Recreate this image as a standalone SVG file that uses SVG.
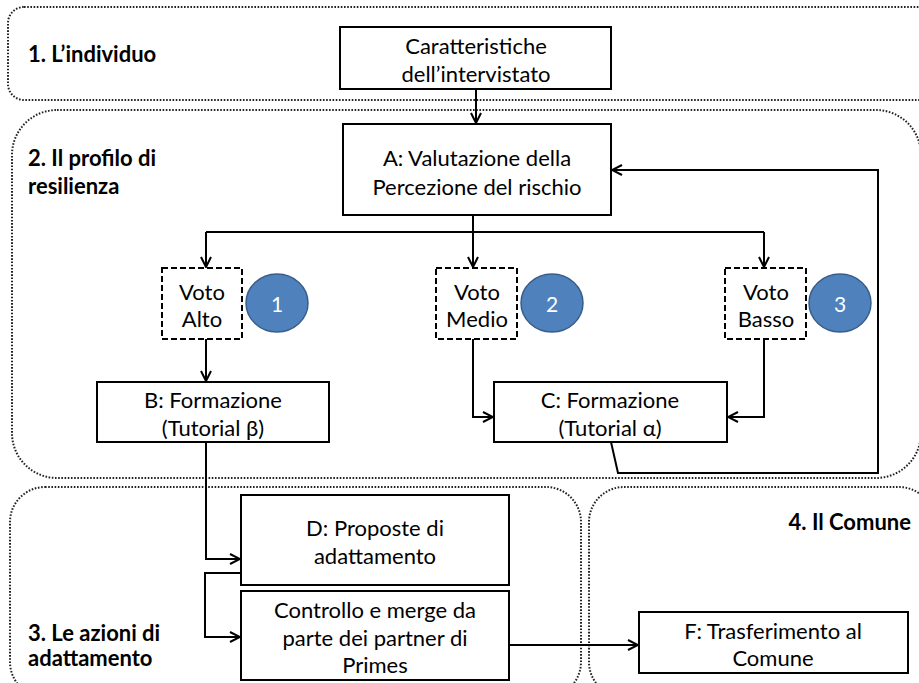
<svg xmlns="http://www.w3.org/2000/svg" width="919" height="683" viewBox="0 0 919 683">
<defs>
<style>
.region{fill:none;stroke:#222;stroke-width:2;stroke-dasharray:1.6 1.6}
.box{fill:#fff;stroke:#000;stroke-width:2}
.dbox{fill:#fff;stroke:#000;stroke-width:2;stroke-dasharray:6 3}
.t{font-family:Lato,"Open Sans",sans-serif;font-size:22px;fill:#000;text-anchor:middle;dominant-baseline:central}
.lb{font-family:Lato,"Open Sans",sans-serif;font-size:22px;font-weight:bold;fill:#000;dominant-baseline:central}
.circ{fill:#4F81BD;stroke:#385D8A;stroke-width:1.5}
.ct{font-family:Lato,"Open Sans",sans-serif;font-size:21px;fill:#fff;text-anchor:middle;dominant-baseline:central}
.c{fill:none;stroke:#000;stroke-width:2}
</style>
<marker id="arr" viewBox="0 0 12 12" refX="11" refY="6" markerWidth="12" markerHeight="12" markerUnits="userSpaceOnUse" orient="auto">
<path d="M1,1 L11,6 L1,11" fill="none" stroke="#000" stroke-width="2"/>
</marker>
</defs>
<g id="regions">
<rect id="r1" class="region" x="8" y="7" width="930" height="93" rx="16"/>
<rect id="r2" class="region" x="12" y="110" width="909" height="368" rx="45"/>
<rect id="r3" class="region" x="10" y="487" width="571" height="210" rx="35"/>
<rect id="r4" class="region" x="589" y="487" width="345" height="210" rx="35"/>
<text class="lb" x="28" y="53">1. L’individuo</text>
<text class="lb" x="28" y="157">2. Il profilo di</text>
<text class="lb" x="28" y="185">resilienza</text>
<text class="lb" x="28" y="632">3. Le azioni di</text>
<text class="lb" x="28" y="657">adattamento</text>
<text class="lb" x="911" y="521" text-anchor="end">4. Il Comune</text>
</g>
<g id="connectors">
<path class="c" d="M476,89 V123" marker-end="url(#arr)"/>
<path class="c" d="M473,215 V232"/>
<path class="c" d="M206,232 H764"/>
<path class="c" d="M206,232 V267" marker-end="url(#arr)"/>
<path class="c" d="M473,232 V267" marker-end="url(#arr)"/>
<path class="c" d="M764,232 V267" marker-end="url(#arr)"/>
<path class="c" d="M206,339 V381" marker-end="url(#arr)"/>
<path class="c" d="M473,339 V417 H493" marker-end="url(#arr)"/>
<path class="c" d="M764,339 V417 H728" marker-end="url(#arr)"/>
<path class="c" d="M611,442 L618,473 H878 V170 H612" marker-end="url(#arr)"/>
<path class="c" d="M206,442 V559 H240" marker-end="url(#arr)"/>
<path class="c" d="M241,573 H205 V637 H240" marker-end="url(#arr)"/>
<path class="c" d="M509,645 H638" marker-end="url(#arr)"/>
</g>
<g id="n-caratteristiche">
<rect class="box" x="340" y="27" width="271" height="62"/>
<text class="t" x="476" y="45">Caratteristiche</text>
<text class="t" x="476" y="73">dell’intervistato</text>
</g>
<g id="n-a">
<rect class="box" x="343" y="124" width="268" height="91"/>
<text class="t" x="477" y="157">A: Valutazione della</text>
<text class="t" x="477" y="186">Percezione del rischio</text>
</g>
<g id="n-alto">
<rect class="dbox" x="162" y="268" width="80" height="71"/>
<text class="t" x="202" y="291">Voto</text>
<text class="t" x="202" y="318">Alto</text>
</g>
<g id="n-1">
<ellipse class="circ" cx="277" cy="303" rx="31" ry="29"/>
<text class="ct" x="277" y="303">1</text>
</g>
<g id="n-medio">
<rect class="dbox" x="436" y="268" width="81" height="71"/>
<text class="t" x="477" y="291">Voto</text>
<text class="t" x="477" y="318">Medio</text>
</g>
<g id="n-2">
<ellipse class="circ" cx="552" cy="303" rx="31" ry="29"/>
<text class="ct" x="552" y="303">2</text>
</g>
<g id="n-basso">
<rect class="dbox" x="725" y="268" width="81" height="71"/>
<text class="t" x="766" y="291">Voto</text>
<text class="t" x="766" y="318">Basso</text>
</g>
<g id="n-3">
<ellipse class="circ" cx="840" cy="303" rx="31" ry="29"/>
<text class="ct" x="840" y="303">3</text>
</g>
<g id="n-b">
<rect class="box" x="97" y="382" width="232" height="60"/>
<text class="t" x="213" y="399">B: Formazione</text>
<text class="t" x="213" y="427">(Tutorial β)</text>
</g>
<g id="n-c">
<rect class="box" x="494" y="382" width="233" height="60"/>
<text class="t" x="610" y="399">C: Formazione</text>
<text class="t" x="610" y="427">(Tutorial α)</text>
</g>
<g id="n-d">
<rect class="box" x="241" y="495" width="268" height="90"/>
<text class="t" x="375" y="527">D: Proposte di</text>
<text class="t" x="375" y="555">adattamento</text>
</g>
<g id="n-controllo">
<rect class="box" x="241" y="591" width="268" height="89"/>
<text class="t" x="375" y="609">Controllo e merge da</text>
<text class="t" x="375" y="637">parte dei partner di</text>
<text class="t" x="375" y="664">Primes</text>
</g>
<g id="n-f">
<rect class="box" x="639" y="612" width="269" height="61"/>
<text class="t" x="773" y="630">F: Trasferimento al</text>
<text class="t" x="773" y="657">Comune</text>
</g>
</svg>
